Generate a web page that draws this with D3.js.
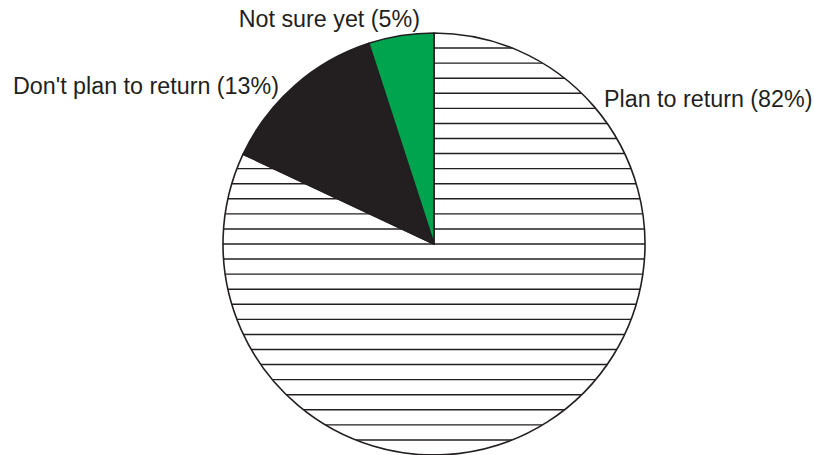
<!DOCTYPE html>
<html>
<head>
<meta charset="utf-8">
<script src="https://cdn.jsdelivr.net/npm/d3@7"></script>
<style>
  html, body { margin: 0; padding: 0; background: #fff; }
  svg { display: block; }
  text { font-family: "Liberation Sans", Arial, Helvetica, sans-serif; fill: #231f20; }
</style>
</head>
<body>
<script>
// Survey responses: share of respondents by return plans
const categories = ["Plan to return", "Don't plan to return", "Not sure yet"];
const shares = [82, 13, 5];
const fills = ["hatch", "#231f20", "#00a34e"];

const W = 814, H = 455;
const cx = 434, cy = 244, R = 211;
const hatchGap = R / 14;

const svg = d3.select("body").append("svg")
  .attr("width", W).attr("height", H);

const data = categories.map((c, i) => ({ label: c, value: shares[i], fill: fills[i] }));

const pie = d3.pie().value(d => d.value).sort(null);
const arcs = pie(data);
const arc = d3.arc().innerRadius(0).outerRadius(R);

const g = svg.append("g").attr("transform", `translate(${cx},${cy})`);

// Clip for the hatched slice
const defs = svg.append("defs");
arcs.forEach((a, i) => {
  if (a.data.fill === "hatch") {
    defs.append("clipPath").attr("id", "clip" + i)
      .append("path").attr("d", arc(a));
  }
});

arcs.forEach((a, i) => {
  if (a.data.fill === "hatch") {
    g.append("path").attr("d", arc(a)).attr("fill", "#fff");
    const lines = d3.range(-14, 15).map(k => k * hatchGap);
    g.append("g").attr("clip-path", `url(#clip${i})`)
      .selectAll("line").data(lines).join("line")
      .attr("x1", -R - 2).attr("x2", R + 2)
      .attr("y1", d => d).attr("y2", d => d)
      .attr("stroke", "#231f20").attr("stroke-width", 1.4);
  }
});

g.selectAll("path.slice").data(arcs).join("path")
  .attr("class", "slice")
  .attr("d", arc)
  .attr("fill", d => d.data.fill === "hatch" ? "none" : d.data.fill)
  .attr("stroke", "#231f20")
  .attr("stroke-width", 1.6)
  .attr("stroke-linejoin", "round");

// Labels with their percentages
const labelPlace = [
  { x: 604, y: 107, anchor: "start" },
  { x: 279, y: 94, anchor: "end" },
  { x: 420, y: 27, anchor: "end" }
];

svg.selectAll("text.lbl").data(arcs).join("text")
  .attr("class", "lbl")
  .attr("x", (d, i) => labelPlace[i].x)
  .attr("y", (d, i) => labelPlace[i].y)
  .attr("text-anchor", (d, i) => labelPlace[i].anchor)
  .attr("font-size", 23.3)
  .text(d => `${d.data.label} (${d.data.value}%)`);
</script>
</body>
</html>
